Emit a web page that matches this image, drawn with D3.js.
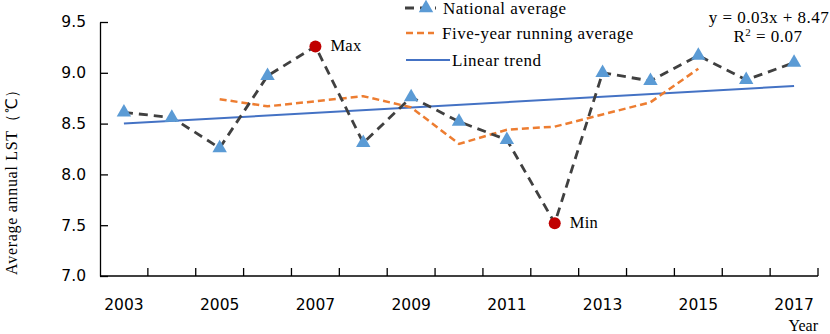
<!DOCTYPE html>
<html>
<head>
<meta charset="utf-8">
<script src="https://cdn.jsdelivr.net/npm/d3@7"></script>
<style>
  body { margin: 0; background: #fff; }
  svg { display: block; }
  .serif { font-family: "Liberation Serif", "Times New Roman", serif; }
</style>
</head>
<body>
<div id="chart"></div>
<script>
'use strict'
/* Datos */
var years = [2003, 2004, 2005, 2006, 2007, 2008, 2009, 2010, 2011, 2012, 2013, 2014, 2015, 2016, 2017];
var national = [8.61, 8.56, 8.26, 8.97, 9.26, 8.31, 8.76, 8.52, 8.34, 7.52, 9.00, 8.92, 9.17, 8.93, 9.10];
var runningYears = [2005, 2006, 2007, 2008, 2009, 2010, 2011, 2012, 2013, 2014, 2015];
var running = [8.74, 8.67, 8.72, 8.77, 8.66, 8.30, 8.44, 8.47, 8.59, 8.71, 9.04];
var trendYears = [2003, 2017];
var trend = [8.50, 8.87];
var yTicks = [7.0, 7.5, 8.0, 8.5, 9.0, 9.5];
var xLabels = [2003, 2005, 2007, 2009, 2011, 2013, 2015, 2017];
var maxYear = 2007, minYear = 2012;

var w = 830;
var h = 334;

function dibujo(){
	var svg = d3.select('#chart')
				.append('svg')
				.attr('width', w)
				.attr('height', h);

	// escalas
	var xScale = d3.scaleBand()
				   .domain(years)
				   .range([100, 818])
				   .padding(0);
	var cx = function(yr){ return xScale(yr) + xScale.bandwidth() / 2; };
	var yScale = d3.scaleLinear()
				   .domain([7.0, 9.5])
				   .range([276, 22]);

	// eje y
	var yAxis = d3.axisLeft(yScale)
				  .tickValues(yTicks)
				  .tickFormat(d3.format('.1f'))
				  .tickSizeInner(-8)
				  .tickSizeOuter(0)
				  .tickPadding(14);
	var gy = svg.append('g')
				.attr('transform', 'translate(100,0)')
				.call(yAxis);
	gy.selectAll('text')
	  .attr('font-family', '"DejaVu Sans", sans-serif')
	  .attr('font-size', 15.5)
	  .attr('fill', '#000');
	gy.selectAll('line, path').attr('stroke', '#000').attr('stroke-width', 1.3);

	// eje x (marcas entre categorias)
	var gx = svg.append('g');
	gx.append('line')
	  .attr('x1', 100).attr('x2', 818)
	  .attr('y1', 276).attr('y2', 276)
	  .attr('stroke', '#000').attr('stroke-width', 1.3);
	var bounds = years.map(function(d){ return xScale(d) + xScale.bandwidth(); });
	gx.selectAll('line.tk')
	  .data(bounds)
	  .enter()
	  .append('line')
	  .attr('class', 'tk')
	  .attr('x1', function(d){ return d; })
	  .attr('x2', function(d){ return d; })
	  .attr('y1', 276).attr('y2', 268)
	  .attr('stroke', '#000').attr('stroke-width', 1.3);
	gx.selectAll('text')
	  .data(xLabels)
	  .enter()
	  .append('text')
	  .attr('x', function(d){ return cx(d); })
	  .attr('y', 310)
	  .attr('text-anchor', 'middle')
	  .attr('font-family', '"DejaVu Sans", sans-serif')
	  .attr('font-size', 15.5)
	  .text(function(d){ return d; });

	// titulos de ejes
	svg.append('text')
	   .attr('class', 'serif')
	   .attr('transform', 'translate(17,178) rotate(-90)')
	   .attr('text-anchor', 'middle')
	   .attr('font-size', 16)
	   .attr('letter-spacing', 0.7)
	   .text('Average annual  LST（℃）');
	svg.append('text')
	   .attr('class', 'serif')
	   .attr('x', 818).attr('y', 331)
	   .attr('text-anchor', 'end')
	   .attr('font-size', 16)
	   .text('Year');

	// tendencia lineal
	var linea = d3.line()
				  .x(function(d){ return cx(d[0]); })
				  .y(function(d){ return yScale(d[1]); });
	svg.append('path')
	   .datum(d3.zip(trendYears, trend))
	   .attr('d', linea)
	   .attr('fill', 'none')
	   .attr('stroke', '#4472C4')
	   .attr('stroke-width', 2);

	// promedio movil
	svg.append('path')
	   .datum(d3.zip(runningYears, running))
	   .attr('d', linea)
	   .attr('fill', 'none')
	   .attr('stroke', '#ED7D31')
	   .attr('stroke-width', 2.5)
	   .attr('stroke-dasharray', '7,4');

	// promedio nacional
	svg.append('path')
	   .datum(d3.zip(years, national))
	   .attr('d', linea)
	   .attr('fill', 'none')
	   .attr('stroke', '#404040')
	   .attr('stroke-width', 2.8)
	   .attr('stroke-dasharray', '9,6');

	var tri = d3.symbol().type(d3.symbolTriangle).size(90);
	var puntos = d3.zip(years, national).filter(function(d){
		return d[0] !== maxYear && d[0] !== minYear;
	});
	svg.selectAll('path.tri')
	   .data(puntos)
	   .enter()
	   .append('path')
	   .attr('class', 'tri')
	   .attr('d', tri)
	   .attr('transform', function(d){ return 'translate(' + cx(d[0]) + ',' + yScale(d[1]) + ')'; })
	   .attr('fill', '#5B9BD5');

	// maximo y minimo
	var extremos = [[maxYear, national[years.indexOf(maxYear)], 'Max'],
					[minYear, national[years.indexOf(minYear)], 'Min']];
	svg.selectAll('circle.ext')
	   .data(extremos)
	   .enter()
	   .append('circle')
	   .attr('class', 'ext')
	   .attr('cx', function(d){ return cx(d[0]); })
	   .attr('cy', function(d){ return yScale(d[1]); })
	   .attr('r', 6)
	   .attr('fill', '#C00000');
	svg.selectAll('text.ext')
	   .data(extremos)
	   .enter()
	   .append('text')
	   .attr('class', 'ext serif')
	   .attr('x', function(d){ return cx(d[0]) + 15; })
	   .attr('y', function(d){ return yScale(d[1]) + 5; })
	   .attr('font-size', 16.5)
	   .attr('letter-spacing', 0.3)
	   .text(function(d){ return d[2]; });

	// leyenda
	var ley = svg.append('g').attr('class', 'serif').attr('letter-spacing', 0.5);
	ley.append('line')
	   .attr('x1', 405).attr('x2', 436).attr('y1', 8).attr('y2', 8)
	   .attr('stroke', '#404040').attr('stroke-width', 2.8).attr('stroke-dasharray', '9,6');
	ley.append('path')
	   .attr('d', tri)
	   .attr('transform', 'translate(426,8)')
	   .attr('fill', '#5B9BD5');
	ley.append('text').attr('x', 443).attr('y', 14).attr('font-size', 17).text('National average');
	ley.append('line')
	   .attr('x1', 406).attr('x2', 434).attr('y1', 33).attr('y2', 33)
	   .attr('stroke', '#ED7D31').attr('stroke-width', 2.5).attr('stroke-dasharray', '7,4');
	ley.append('text').attr('x', 442).attr('y', 39).attr('font-size', 17).text('Five-year running average');
	ley.append('line')
	   .attr('x1', 406).attr('x2', 450).attr('y1', 60).attr('y2', 60)
	   .attr('stroke', '#4472C4').attr('stroke-width', 2);
	ley.append('text').attr('x', 452).attr('y', 66).attr('font-size', 17).text('Linear trend');

	// ecuacion
	svg.append('text')
	   .attr('class', 'serif')
	   .attr('x', 769).attr('y', 23)
	   .attr('text-anchor', 'middle')
	   .attr('font-size', 17)
	   .attr('letter-spacing', 0.5)
	   .text('y = 0.03x + 8.47');
	var r2 = svg.append('text')
				.attr('class', 'serif')
				.attr('x', 768).attr('y', 42)
				.attr('text-anchor', 'middle')
				.attr('font-size', 17)
				.attr('letter-spacing', 0.5);
	r2.append('tspan').text('R');
	r2.append('tspan').attr('font-size', 11).attr('dy', -6).text('2');
	r2.append('tspan').attr('dy', 6).text(' = 0.07');
}
dibujo();
</script>
</body>
</html>
